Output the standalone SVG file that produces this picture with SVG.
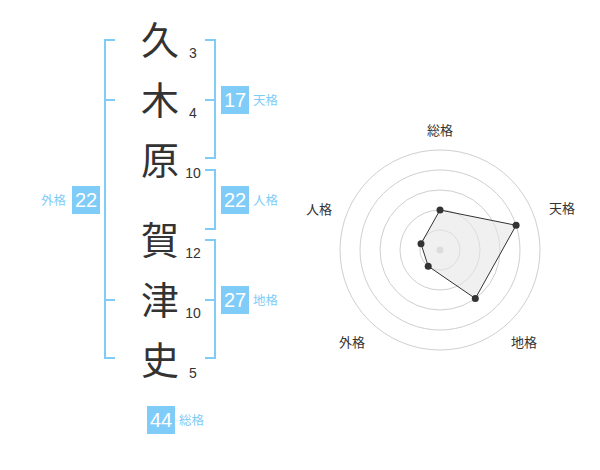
<svg xmlns="http://www.w3.org/2000/svg" width="600" height="470" viewBox="0 0 600 470">
<style>
.kanji{font-family:"Noto Sans CJK JP","Noto Sans CJK SC",sans-serif;font-size:38px;fill:#333;text-anchor:middle}
.num{font-family:"Liberation Sans",Arial,sans-serif;font-size:14px;fill:#333;text-anchor:middle}
.br{fill:none;stroke:#80ccf8;stroke-width:2}
.box{fill:#80ccf8}
.bnum{font-family:"Liberation Sans",Arial,sans-serif;font-size:20px;fill:#fff;text-anchor:middle}
.blab{font-family:"Noto Sans CJK JP","Noto Sans CJK SC",sans-serif;font-size:12.5px;fill:#80ccf8}
.rlab{font-family:"Noto Sans CJK JP","Noto Sans CJK SC",sans-serif;font-size:13px;fill:#333;text-anchor:middle}
.ring{fill:none;stroke:#cfcfcf;stroke-width:1}
</style>
<rect width="600" height="470" fill="#fff"/>
<g id="kanji-chars">
<g id="k1"><text class="kanji" x="160" y="54">久</text><text class="num" x="193" y="58">3</text></g>
<g id="k2"><text class="kanji" x="160" y="114">木</text><text class="num" x="193" y="118">4</text></g>
<g id="k3"><text class="kanji" x="160" y="174">原</text><text class="num" x="193" y="178">10</text></g>
<g id="k4"><text class="kanji" x="160" y="254">賀</text><text class="num" x="193" y="258">12</text></g>
<g id="k5"><text class="kanji" x="160" y="314">津</text><text class="num" x="193" y="318">10</text></g>
<g id="k6"><text class="kanji" x="160" y="374">史</text><text class="num" x="193" y="378">5</text></g>
</g>
<g id="connectors">
<path class="br" d="M115,40 H105 V358 H115 M105,100 H115 M105,300 H115"/>
<path class="br" d="M205,40 H215 V158 H205 M215,100 H205"/>
<path class="br" d="M205,170 H215 V229 H205"/>
<path class="br" d="M205,240 H215 V358 H205 M215,300 H205"/>
</g>
<g id="tenkaku"><rect class="box" x="221" y="86" width="28" height="28"/><text class="bnum" x="235" y="107">17</text><text class="blab" x="253" y="105">天格</text></g>
<g id="jinkaku"><rect class="box" x="221" y="186" width="28" height="28"/><text class="bnum" x="235" y="207">22</text><text class="blab" x="253" y="205">人格</text></g>
<g id="chikaku"><rect class="box" x="221" y="286" width="28" height="28"/><text class="bnum" x="235" y="307">27</text><text class="blab" x="253" y="305">地格</text></g>
<g id="gaikaku"><rect class="box" x="72" y="186" width="28" height="28"/><text class="bnum" x="86" y="207">22</text><text class="blab" x="41" y="205">外格</text></g>
<g id="soukaku"><rect class="box" x="147" y="406" width="28" height="28"/><text class="bnum" x="161" y="427">44</text><text class="blab" x="179" y="425">総格</text></g>
<g id="radar">
<circle class="ring" cx="440" cy="250" r="20"/>
<circle class="ring" cx="440" cy="250" r="40"/>
<circle class="ring" cx="440" cy="250" r="60"/>
<circle class="ring" cx="440" cy="250" r="80"/>
<circle class="ring" cx="440" cy="250" r="100"/>
<circle cx="440" cy="250" r="3.5" fill="#ccc"/>
<polygon points="440,210 516.1,225.3 475.3,298.5 428.2,266.2 421,243.8" fill="#e6e6e6" fill-opacity="0.6" stroke="#333" stroke-width="1"/>
<g fill="#333">
<circle cx="440" cy="210" r="3.5"/>
<circle cx="516.1" cy="225.3" r="3.5"/>
<circle cx="475.3" cy="298.5" r="3.5"/>
<circle cx="428.2" cy="266.2" r="3.5"/>
<circle cx="421" cy="243.8" r="3.5"/>
</g>
<text class="rlab" x="440" y="134.5">総格</text>
<text class="rlab" x="562" y="212.5">天格</text>
<text class="rlab" x="319" y="213.5">人格</text>
<text class="rlab" x="352" y="346.5">外格</text>
<text class="rlab" x="524" y="346.5">地格</text>
</g>
</svg>
